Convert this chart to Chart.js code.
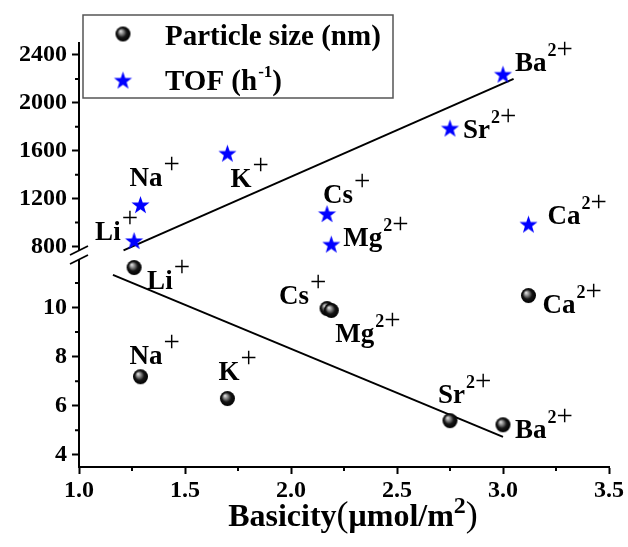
<!DOCTYPE html>
<html>
<head>
<meta charset="utf-8">
<script src="https://cdn.jsdelivr.net/npm/chart.js@4/dist/chart.umd.min.js"></script>
<style>
  html, body { margin: 0; padding: 0; background: #fff; }
  #c { display: block; }
</style>
</head>
<body>
<canvas id="c" width="628" height="547"></canvas>
<script>
// ---- data ----
const ions      = ['Li', 'Na', 'K', 'Cs', 'Mg', 'Ca', 'Sr', 'Ba'];
const charges   = ['+', '+', '+', '+', '2+', '2+', '2+', '2+'];
const basicity  = [1.26, 1.29, 1.70, 2.17, 2.19, 3.12, 2.75, 3.00];
const particleSize = [11.63, 7.18, 6.29, 9.96, 9.88, 10.49, 5.39, 5.22];
const tof          = [850, 1150, 1580, 1075, 820, 987, 1790, 2240];

// linear fit lines (end points)
const sizeFitX = [1.16, 3.00];
const sizeFitY = [11.33, 4.73];
const tofFitX  = [1.21, 3.05];
const tofFitY  = [767, 2200];

// tick values
const xTicks      = [1.0, 1.5, 2.0, 2.5, 3.0, 3.5];
const xMinor      = [1.25, 1.75, 2.25, 2.75, 3.25];
const yLowTicks   = [4, 6, 8, 10];
const yLowMinor   = [5, 7, 9, 11];
const yTopTicks   = [800, 1200, 1600, 2000, 2400];
const yTopMinor   = [1000, 1400, 1800, 2200];

const FONT = '"Liberation Serif", "Times New Roman", serif';

// ---- marker images ----
function makeSphere(r) {
  const c = document.createElement('canvas');
  c.width = c.height = 2 * r + 2;
  const g = c.getContext('2d');
  const m = r + 1;
  const grad = g.createRadialGradient(m - r * 0.35, m - r * 0.4, 0, m, m, r);
  grad.addColorStop(0, '#eeeeee');
  grad.addColorStop(0.3, '#8a8a8a');
  grad.addColorStop(0.62, '#151515');
  grad.addColorStop(1, '#000');
  g.fillStyle = grad;
  g.beginPath();
  g.arc(m, m, r, 0, Math.PI * 2);
  g.fill();
  return c;
}
function makeStar(R) {
  const c = document.createElement('canvas');
  c.width = c.height = 2 * R + 2;
  const g = c.getContext('2d');
  const m = R + 1, r = R * 0.4;
  g.fillStyle = '#0000ff';
  g.beginPath();
  for (let i = 0; i < 10; i++) {
    const a = -Math.PI / 2 + i * Math.PI / 5;
    const rr = i % 2 ? r : R;
    g.lineTo(m + rr * Math.cos(a), m + 1 + rr * Math.sin(a));
  }
  g.closePath();
  g.fill();
  return c;
}
const sphere = makeSphere(7.5);
const star = makeStar(9.5);

// label offsets (px from marker) -- layout only
const sizeLabelOff = {
  Li: [13, 21], Na: [-11, -13], K: [-9, -19], Cs: [-48, -5],
  Mg: [4, 32], Ca: [14, 17], Sr: [-12, -18], Ba: [12, 13]
};
const tofLabelOff = {
  Li: [-39, 0], Na: [-11, -19], K: [3, 34], Cs: [-4, -11],
  Mg: [12, 2], Ca: [19, 0], Sr: [13, 10], Ba: [12, -3]
};

function drawIon(ctx, name, charge, x, y) {
  ctx.font = 'bold 27px ' + FONT;
  ctx.textBaseline = 'alphabetic';
  ctx.textAlign = 'left';
  ctx.fillStyle = '#000';
  ctx.fillText(name, x, y);
  let cx = x + ctx.measureText(name).width + 1;
  if (charge === '2+') {
    ctx.font = 'bold 18px ' + FONT;
    ctx.fillText('2', cx, y - 15);
    cx += ctx.measureText('2').width;
  }
  ctx.font = '29px ' + FONT;
  ctx.fillText('+', cx, y - 13);
}

const decorations = {
  id: 'decorations',
  beforeDraw(chart) {
    const ctx = chart.ctx;
    ctx.save();
    ctx.fillStyle = '#fff';
    ctx.fillRect(0, 0, chart.width, chart.height);
    ctx.restore();
  },
  afterDraw(chart) {
    const ctx = chart.ctx;
    const sx = chart.scales.x, yl = chart.scales.yLow, yt = chart.scales.yTop;
    const area = chart.chartArea;
    ctx.save();
    ctx.strokeStyle = '#000';
    ctx.lineWidth = 2;
    // minor ticks
    ctx.beginPath();
    xMinor.forEach(v => {
      const px = sx.getPixelForValue(v);
      ctx.moveTo(px, area.bottom); ctx.lineTo(px, area.bottom + 4);
    });
    yLowMinor.forEach(v => {
      const py = yl.getPixelForValue(v);
      ctx.moveTo(area.left, py); ctx.lineTo(area.left - 4, py);
    });
    yTopMinor.forEach(v => {
      const py = yt.getPixelForValue(v);
      ctx.moveTo(area.left, py); ctx.lineTo(area.left - 4, py);
    });
    ctx.stroke();

    // axis break
    const by = yl.top;
    ctx.fillStyle = '#fff';
    ctx.fillRect(area.left - 3, by - 5, 6, 8);
    ctx.lineWidth = 1.8;
    ctx.beginPath();
    ctx.moveTo(area.left - 9, by - 1); ctx.lineTo(area.left + 9, by - 10);
    ctx.moveTo(area.left - 9, by + 8); ctx.lineTo(area.left + 9, by - 1);
    ctx.stroke();

    // ion labels
    ions.forEach((ion, i) => {
      const px = sx.getPixelForValue(basicity[i]);
      const o1 = sizeLabelOff[ion];
      drawIon(ctx, ion, charges[i], px + o1[0], yl.getPixelForValue(particleSize[i]) + o1[1]);
      const o2 = tofLabelOff[ion];
      drawIon(ctx, ion, charges[i], px + o2[0], yt.getPixelForValue(tof[i]) + o2[1]);
    });

    // legend
    ctx.fillStyle = '#fff';
    ctx.fillRect(83, 15, 310, 83);
    ctx.strokeStyle = '#555';
    ctx.lineWidth = 1.5;
    ctx.strokeRect(83, 15, 310, 83);
    ctx.drawImage(sphere, 123 - sphere.width / 2, 34 - sphere.height / 2);
    ctx.drawImage(star, 123 - star.width / 2, 80 - star.height / 2);
    ctx.fillStyle = '#000';
    ctx.textAlign = 'left';
    ctx.textBaseline = 'alphabetic';
    ctx.font = 'bold 29px ' + FONT;
    ctx.fillText('Particle size (nm)', 165, 45);
    let tx = 165;
    ctx.fillText('TOF (h', tx, 90);
    tx += ctx.measureText('TOF (h').width + 1;
    ctx.font = 'bold 17px ' + FONT;
    ctx.fillText('-1', tx, 77);
    tx += ctx.measureText('-1').width;
    ctx.font = 'bold 29px ' + FONT;
    ctx.fillText(')', tx, 90);

    // x axis title
    const parts = [
      ['Basicity', 'bold 32px ', 0],
      ['(', '36px ', 0],
      ['\u03bcmol/m', 'bold 32px ', 0],
      ['2', 'bold 24px ', -13],
      [')', '36px ', 0]
    ];
    let total = 0;
    parts.forEach(p => { ctx.font = p[1] + FONT; total += ctx.measureText(p[0]).width; });
    let ax = 353 - total / 2;
    parts.forEach(p => {
      ctx.font = p[1] + FONT;
      ctx.fillText(p[0], ax, 526 + p[2]);
      ax += ctx.measureText(p[0]).width;
    });
    ctx.restore();
  }
};

const tickFont = { family: FONT, size: 24, weight: 'bold' };
const gridOpts = { drawOnChartArea: false, tickLength: 7, tickWidth: 2, color: '#000' };
const borderOpts = { color: '#000', width: 2 };
const yTickOpts = { font: tickFont, color: '#000', padding: 5, autoSkip: false, callback: v => String(v) };

new Chart(document.getElementById('c'), {
  type: 'scatter',
  data: {
    datasets: [
      {
        label: 'Particle size (nm)',
        data: basicity.map((x, i) => ({ x, y: particleSize[i] })),
        yAxisID: 'yLow',
        pointStyle: sphere,
        pointRadius: 8
      },
      {
        label: 'TOF (h-1)',
        data: basicity.map((x, i) => ({ x, y: tof[i] })),
        yAxisID: 'yTop',
        pointStyle: star,
        pointRadius: 10
      },
      {
        label: 'size fit',
        data: sizeFitX.map((x, i) => ({ x, y: sizeFitY[i] })),
        yAxisID: 'yLow',
        showLine: true,
        borderColor: '#000',
        borderWidth: 2,
        pointRadius: 0
      },
      {
        label: 'tof fit',
        data: tofFitX.map((x, i) => ({ x, y: tofFitY[i] })),
        yAxisID: 'yTop',
        showLine: true,
        borderColor: '#000',
        borderWidth: 2,
        pointRadius: 0
      }
    ]
  },
  options: {
    responsive: false,
    animation: false,
    events: [],
    layout: { padding: { top: 43, right: 19, left: 0, bottom: 0 } },
    plugins: { legend: { display: false }, tooltip: { enabled: false } },
    scales: {
      x: {
        type: 'linear',
        min: 1.0, max: 3.5,
        afterBuildTicks: s => { s.ticks = xTicks.map(v => ({ value: v })); },
        afterFit: s => { s.height = 80; },
        ticks: { font: tickFont, color: '#000', padding: 2, maxRotation: 0, autoSkip: false,
                 callback: v => v.toFixed(1) },
        grid: gridOpts,
        border: borderOpts
      },
      yTop: {
        type: 'linear',
        position: 'left',
        stack: 'y',
        stackWeight: 213,
        weight: 1,
        min: 720, max: 2500,
        afterBuildTicks: s => { s.ticks = yTopTicks.map(v => ({ value: v })); },
        afterFit: s => { s.width = 79; },
        ticks: yTickOpts,
        grid: gridOpts,
        border: borderOpts
      },
      yLow: {
        type: 'linear',
        position: 'left',
        stack: 'y',
        stackWeight: 211,
        weight: 0,
        min: 3.5, max: 12.1,
        afterBuildTicks: s => { s.ticks = yLowTicks.map(v => ({ value: v })); },
        afterFit: s => { s.width = 79; },
        ticks: yTickOpts,
        grid: gridOpts,
        border: borderOpts
      }
    }
  },
  plugins: [decorations]
});
</script>
</body>
</html>
